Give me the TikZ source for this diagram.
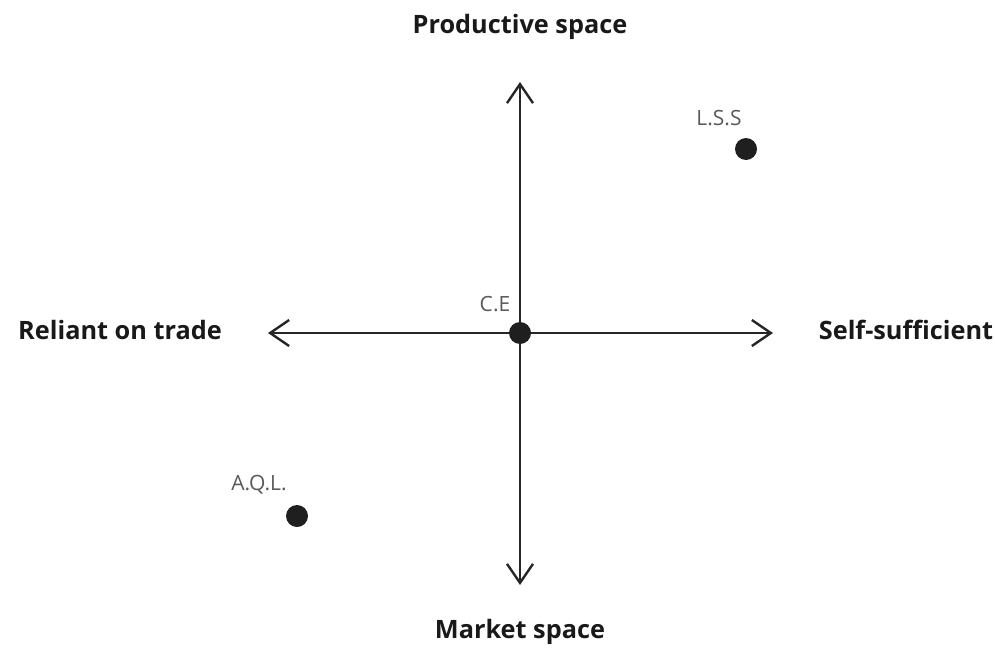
\documentclass[tikz,border=0pt]{standalone}
\usepackage{fontspec}
\setmainfont{Open Sans}
\usetikzlibrary{arrows.meta}
\begin{document}
\begin{tikzpicture}[x=1pt,y=-1pt,
  axis/.style={line width=2.4pt, color=black!85, -{Straight Barb[length=19pt,width=26pt,line width=2.4pt]}},
  dot/.style={circle, fill=black!88, inner sep=0pt, minimum size=22pt},
  ptlabel/.style={text=black!65, font=\fontsize{21}{24}\selectfont, inner sep=0pt},
  axlabel/.style={text=black!90, font=\bfseries\fontsize{25.3}{30}\selectfont, inner sep=0pt}]
\useasboundingbox (0,0) rectangle (995,650);
\coordinate (top) at (520,82);
\coordinate (bot) at (520,585);
\coordinate (lft) at (268,333);
\coordinate (rgt) at (773,333);
\coordinate (o) at (520,333);
\draw[axis] (o) -- (top);
\draw[axis] (o) -- (bot);
\draw[axis] (o) -- (lft);
\draw[axis] (o) -- (rgt);
\node[dot] (ce) at (o) {};
\node[dot] (lss) at (746,149) {};
\node[dot] (aql) at (297,516) {};
\node[ptlabel] (celab) at (495,304) {C.E};
\node[ptlabel] (lsslab) at (719,118) {L.S.S};
\node[ptlabel] (aqllab) at (259,485) {A.Q.L.};
\node[axlabel] (prod) at (520,27) {Productive space};
\node[axlabel] (mkt) at (520,632) {Market space};
\node[axlabel] (rel) at (120,330) {Reliant on trade};
\node[axlabel] (self) at (906,330) {Self-sufficient};
\end{tikzpicture}
\end{document}
